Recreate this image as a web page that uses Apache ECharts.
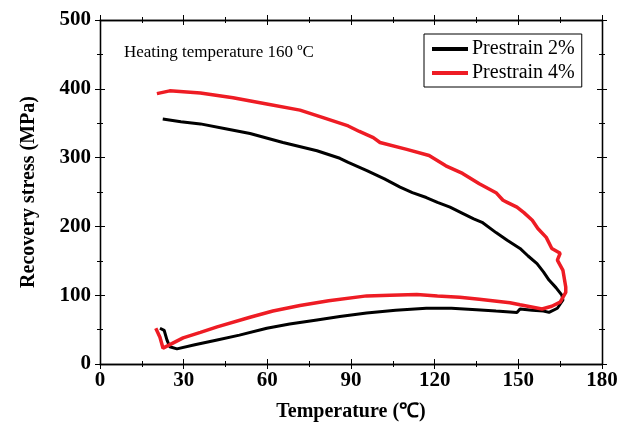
<!DOCTYPE html>
<html><head><meta charset="utf-8">
<script src="https://cdn.jsdelivr.net/npm/echarts@6/dist/echarts.min.js"></script>
<style>html,body{margin:0;padding:0;background:#fff}#c{width:637px;height:429px}</style>
</head><body><div id="c"></div>
<script>
const seriesNames = ['Prestrain 2%', 'Prestrain 4%'];
const prestrain2 = [[21.5,52],[23,49],[24,35],[25,25],[27.6,22],[34,28],[42,35],[50,42],[59.8,52],[68,58],[77.8,64],[86,69],[95.6,74],[106,78],[117,81],[126,81],[135,79],[142,77],[149.5,75],[150.6,80],[155,78],[159,77],[161,75],[164,81],[166,93],[165.6,100],[163.5,111],[161,122],[159,134],[156.7,146],[153.5,157],[150.6,168],[146,180],[142,191],[137,206],[134,211],[130,219],[125.5,228],[121,235],[117,242],[112,249],[107.6,257],[102,269],[95.7,281],[89,293],[86,299],[77.8,310],[65.6,322],[53.8,335],[45,342],[36,349],[29,352],[22.5,356]];
const prestrain4 = [[20,52],[21.5,39],[22.6,23],[29.8,38],[36,46],[42,54],[53.8,68],[62,77],[71.7,85],[82,92],[95.6,99],[104,100],[113.6,101],[121,99],[129,97],[136,94],[147,89],[150.6,86],[158.5,80],[162,84],[165,90],[167,104],[167,112],[166,136],[164,151],[165,161],[162,168],[160,184],[157,197],[155,209],[152,220],[149.5,228],[146,235],[144.5,238],[142,249],[136,262],[130,277],[124,288],[118,303],[110,312],[100.4,322],[98,329],[93,338],[89,346],[80,358],[71.7,369],[59.8,378],[47.7,387],[36,394],[25,397],[20.4,393]];
const xTicks = {min:0, max:180, interval:30};
const yTicks = {min:0, max:500, interval:100};
const annotation = 'Heating temperature 160 ºC';
const xName = 'Temperature (℃)';
const yName = 'Recovery stress (MPa)';

const serif = '"Liberation Serif","Times New Roman",serif';
const chart = echarts.init(document.getElementById('c'));
function xa(pos, inside, show) {
  return {type:'value', position:pos, min:xTicks.min, max:xTicks.max, interval:xTicks.interval,
    axisLine:{show:true, onZero:false, lineStyle:{color:'#000', width:1.3}},
    axisTick:{show:true, inside:inside, length:5, lineStyle:{color:'#000', width:1}},
    minorTick:{show:true, splitNumber:2, length:3, lineStyle:{color:'#000', width:1}},
    splitLine:{show:false},
    axisLabel:{show:show, margin:6, color:'#000', fontFamily:serif, fontWeight:'bold', fontSize:21},
    name: show ? xName : '', nameLocation:'middle', nameGap:38,
    nameTextStyle:{color:'#000', fontFamily:serif, fontWeight:'bold', fontSize:20}};
}
function ya(pos, inside, show) {
  return {type:'value', position:pos, min:yTicks.min, max:yTicks.max, interval:yTicks.interval,
    axisLine:{show:true, onZero:false, lineStyle:{color:'#000', width:1.3}},
    axisTick:{show:true, inside:inside, length:5, lineStyle:{color:'#000', width:1}},
    minorTick:{show:true, splitNumber:2, length:3, lineStyle:{color:'#000', width:1}},
    splitLine:{show:false},
    axisLabel:{show:show, margin:9, color:'#000', fontFamily:serif, fontWeight:'bold', fontSize:21},
    name: show ? yName : '', nameLocation:'middle', nameGap:61,
    nameTextStyle:{color:'#000', fontFamily:serif, fontWeight:'bold', fontSize:20}};
}
chart.setOption({
  animation:false,
  grid:{left:100, right:35, top:20, bottom:65},
  xAxis:[xa('bottom', false, true), xa('bottom', true, false), xa('top', false, false), xa('top', true, false)],
  yAxis:[ya('left', false, true), ya('left', true, false), ya('right', false, false), ya('right', true, false)],
  legend:{left:424, top:34, orient:'vertical', borderColor:'#000', borderWidth:1, padding:[4,7,3,8],
    icon:'rect', itemWidth:36, itemHeight:4, itemGap:2,
    textStyle:{color:'#000', fontFamily:serif, fontSize:20, lineHeight:22, padding:[0,0,0,-1]}, data:seriesNames},
  graphic:[{type:'text', left:124, top:44, style:{text:annotation, fill:'#000', font:'17px ' + serif}}],
  series:[
    {name:seriesNames[0], type:'line', data:prestrain2, symbol:'none', smooth:false,
     lineStyle:{color:'#000', width:3}, itemStyle:{color:'#000'}},
    {name:seriesNames[1], type:'line', data:prestrain4, symbol:'none', smooth:false,
     lineStyle:{color:'#ee1c24', width:3.5}, itemStyle:{color:'#ee1c24'}}
  ]
});
</script></body></html>
